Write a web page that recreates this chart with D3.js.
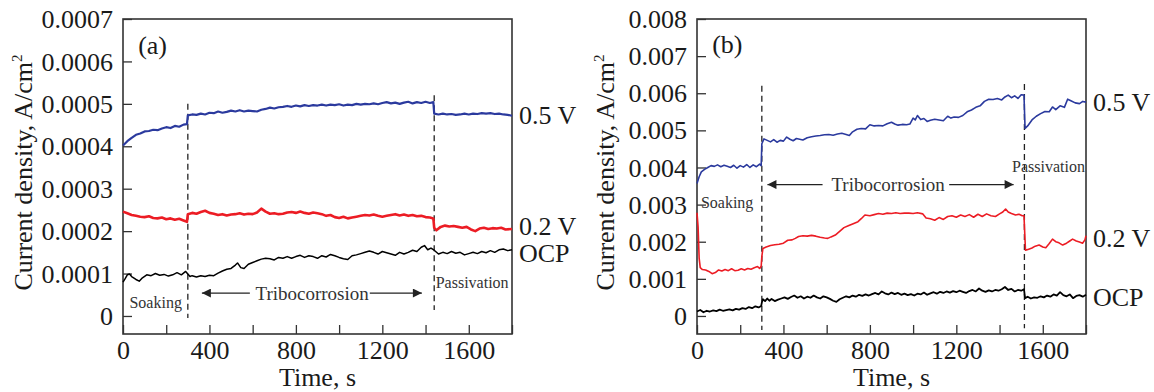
<!DOCTYPE html>
<html lang="en">
<head>
<meta charset="utf-8">
<title>current density vs time</title>
<script src="https://d3js.org/d3.v7.min.js"></script>
<style>
    body{margin:0;background:#fff;}
    svg text{font-family:"Liberation Serif","Times New Roman",serif;fill:#1a1a1a;}
    .tick line{stroke:#333;stroke-width:1.3px;}
    .tick text{font-size:26px;}
</style>
</head>
<body>
<svg id="chart" width="1154" height="392"></svg>
<script>
// panel (a), current density in units of 1e-4 A/cm2, [time s, value]
var aBlue = [[0,4.02],[20,4.12],[40,4.20],[60,4.27],[80,4.30],[100,4.35],[120,4.36],[140,4.39],[160,4.38],[180,4.42],[200,4.45],[220,4.43],[240,4.48],[260,4.46],[280,4.51],[296,4.52],
    [300,4.73],[320,4.75],[340,4.74],[360,4.77],[380,4.75],[400,4.79],[420,4.78],[440,4.82],[460,4.79],[480,4.81],[500,4.84],[520,4.82],[540,4.85],[560,4.82],[580,4.84],[600,4.83],
    [620,4.82],[640,4.86],[660,4.88],[680,4.91],[700,4.89],[720,4.92],[740,4.93],[760,4.95],[780,4.93],[800,4.96],[820,4.94],[840,4.97],[860,4.95],[880,4.97],[900,4.96],[920,4.98],
    [940,4.96],[960,4.98],[980,4.97],[1000,4.99],[1020,4.96],[1040,4.98],[1060,4.97],[1080,5.00],[1100,4.98],[1120,5.00],[1140,4.99],[1160,5.01],[1180,4.99],[1200,5.02],[1220,5.04],
    [1240,5.01],[1260,5.03],[1280,5.00],[1300,5.03],[1320,5.05],[1340,5.01],[1360,5.04],[1380,5.02],[1400,5.05],[1420,5.02],[1436,5.04],
    [1440,4.77],[1460,4.75],[1480,4.77],[1500,4.75],[1520,4.76],[1540,4.74],[1560,4.75],[1580,4.77],[1600,4.75],[1620,4.77],[1640,4.76],[1660,4.78],[1680,4.77],[1700,4.78],[1720,4.76],
    [1740,4.77],[1760,4.75],[1780,4.74],[1800,4.72]]
var aRed = [[0,2.46],[20,2.42],[40,2.38],[60,2.36],[80,2.34],[100,2.33],[120,2.35],[140,2.31],[160,2.30],[180,2.32],[200,2.28],[220,2.30],[240,2.27],[260,2.29],[280,2.25],[296,2.22],
    [300,2.40],[320,2.43],[340,2.41],[360,2.45],[380,2.48],[400,2.43],[420,2.41],[440,2.38],[460,2.40],[480,2.37],[500,2.39],[520,2.40],[540,2.42],[560,2.39],[580,2.41],[600,2.40],
    [620,2.44],[640,2.53],[660,2.46],[680,2.41],[700,2.42],[720,2.40],[740,2.41],[760,2.44],[780,2.45],[800,2.43],[820,2.46],[840,2.43],[860,2.41],[880,2.44],[900,2.42],[920,2.40],
    [940,2.36],[960,2.38],[980,2.33],[1000,2.31],[1020,2.34],[1040,2.30],[1060,2.32],[1080,2.34],[1100,2.36],[1120,2.38],[1140,2.37],[1160,2.39],[1180,2.36],[1200,2.34],[1220,2.36],
    [1240,2.38],[1260,2.40],[1280,2.37],[1300,2.39],[1320,2.36],[1340,2.38],[1360,2.35],[1380,2.36],[1400,2.33],[1420,2.32],[1436,2.30],
    [1440,2.08],[1450,2.02],[1470,2.10],[1490,2.13],[1510,2.11],[1530,2.12],[1550,2.10],[1570,2.08],[1590,2.10],[1610,2.04],[1630,2.00],[1650,2.06],[1670,2.08],[1690,2.05],[1710,2.07],
    [1730,2.06],[1750,2.08],[1770,2.04],[1800,2.05]]
var aOcp = [[0,0.80],[10,0.88],[20,0.97],[30,0.99],[40,0.93],[60,0.86],[75,0.82],[90,0.90],[110,0.97],[130,0.95],[150,1.00],[170,0.96],[190,0.98],[210,0.94],[230,0.97],[250,1.02],
    [270,0.97],[290,1.05],[300,0.99],[310,0.93],[320,0.95],[340,0.92],[360,0.95],[380,0.93],[400,0.96],[420,0.95],[440,1.01],[460,1.06],[480,1.10],[500,1.12],[520,1.20],[530,1.25],
    [545,1.14],[560,1.12],[580,1.22],[600,1.26],[620,1.30],[640,1.34],[660,1.36],[680,1.35],[700,1.32],[720,1.38],[740,1.36],[760,1.40],[780,1.36],[800,1.40],[820,1.43],[840,1.38],
    [860,1.42],[880,1.40],[900,1.36],[920,1.42],[940,1.39],[960,1.45],[980,1.42],[1000,1.38],[1020,1.35],[1040,1.33],[1060,1.42],[1080,1.44],[1100,1.47],[1120,1.50],[1140,1.53],
    [1160,1.50],[1180,1.46],[1200,1.52],[1220,1.49],[1240,1.46],[1260,1.43],[1280,1.50],[1300,1.46],[1320,1.50],[1340,1.55],[1360,1.52],[1380,1.62],[1395,1.66],[1410,1.56],[1425,1.60],
    [1440,1.55],[1460,1.46],[1480,1.50],[1500,1.47],[1520,1.52],[1540,1.48],[1560,1.50],[1580,1.44],[1600,1.47],[1620,1.50],[1640,1.47],[1660,1.52],[1680,1.49],[1700,1.54],[1720,1.50],
    [1740,1.56],[1760,1.58],[1780,1.54],[1800,1.56]]

// panel (b), current density in units of 1e-3 A/cm2
var bBlue = [[0,3.57],[10,3.75],[20,3.88],[35,3.95],[50,4.00],[65,4.05],[80,4.03],[95,4.07],[110,4.02],[125,4.06],[140,4.03],[155,4.00],[170,4.06],[185,3.98],[200,4.05],[215,4.01],
    [230,4.08],[245,4.00],[260,4.07],[275,4.02],[290,4.09],[297,4.05],[300,4.64],[310,4.77],[325,4.73],[340,4.69],[355,4.75],[370,4.68],[385,4.73],[400,4.71],[415,4.82],[430,4.76],
    [445,4.72],[460,4.78],[475,4.76],[490,4.74],[510,4.80],[530,4.83],[550,4.85],[570,4.86],[590,4.88],[610,4.89],[630,4.87],[650,4.90],[670,4.92],[690,4.89],[705,4.86],[720,4.96],
    [740,5.03],[760,5.05],[780,5.04],[800,5.15],[820,5.12],[840,5.13],[860,5.12],[880,5.18],[900,5.22],[915,5.17],[930,5.14],[950,5.16],[970,5.15],[985,5.17],[1000,5.33],[1010,5.28],
    [1020,5.40],[1035,5.29],[1050,5.32],[1065,5.24],[1080,5.27],[1100,5.30],[1120,5.28],[1140,5.26],[1160,5.38],[1175,5.33],[1190,5.36],[1210,5.35],[1230,5.40],[1250,5.50],[1270,5.55],
    [1290,5.62],[1310,5.66],[1330,5.78],[1350,5.84],[1370,5.83],[1390,5.86],[1410,5.82],[1425,5.90],[1440,5.95],[1455,5.88],[1470,5.93],[1485,5.86],[1500,5.96],[1513,5.95],
    [1518,5.05],[1530,5.12],[1550,5.28],[1570,5.38],[1590,5.45],[1610,5.51],[1630,5.50],[1645,5.63],[1660,5.56],[1680,5.66],[1700,5.62],[1715,5.84],[1730,5.80],[1750,5.74],[1770,5.72],
    [1785,5.78],[1800,5.76]]
var bRed = [[0,2.78],[5,2.40],[10,1.55],[15,1.30],[25,1.25],[40,1.24],[55,1.20],[70,1.14],[85,1.17],[100,1.24],[115,1.21],[130,1.25],[145,1.22],[160,1.27],[175,1.22],[190,1.23],
    [205,1.27],[220,1.24],[235,1.28],[250,1.26],[265,1.30],[280,1.33],[290,1.28],[297,1.34],[300,1.60],[305,1.82],[320,1.86],[340,1.90],[360,1.92],[380,1.93],[400,1.96],[420,2.04],
    [440,2.05],[455,2.09],[470,2.14],[490,2.16],[510,2.15],[530,2.17],[550,2.15],[570,2.12],[590,2.10],[605,2.09],[620,2.13],[640,2.18],[660,2.28],[680,2.38],[700,2.43],[720,2.48],
    [745,2.54],[760,2.62],[777,2.72],[800,2.70],[820,2.73],[840,2.76],[860,2.74],[880,2.77],[900,2.76],[920,2.78],[940,2.76],[960,2.77],[980,2.77],[1000,2.76],[1020,2.78],[1045,2.75],
    [1060,2.64],[1080,2.62],[1100,2.58],[1120,2.65],[1140,2.60],[1160,2.68],[1180,2.70],[1200,2.66],[1220,2.72],[1240,2.68],[1260,2.73],[1280,2.66],[1300,2.74],[1320,2.68],[1340,2.75],
    [1360,2.70],[1381,2.68],[1400,2.75],[1415,2.80],[1428,2.88],[1440,2.80],[1455,2.76],[1474,2.72],[1490,2.74],[1505,2.70],[1513,2.70],
    [1520,1.77],[1535,1.80],[1550,1.83],[1565,1.88],[1583,1.91],[1600,1.86],[1614,1.84],[1630,1.95],[1645,2.07],[1660,2.00],[1675,1.97],[1692,1.91],[1710,1.96],[1725,2.02],[1738,2.07],
    [1755,2.02],[1770,1.99],[1784,1.96],[1795,2.05],[1800,2.16]]
var bOcp = [[0,0.12],[15,0.16],[30,0.10],[45,0.14],[60,0.12],[75,0.15],[90,0.13],[105,0.17],[120,0.14],[135,0.16],[150,0.18],[165,0.15],[180,0.19],[195,0.17],[210,0.21],[225,0.19],
    [240,0.24],[255,0.21],[270,0.26],[285,0.23],[297,0.27],[300,0.36],[305,0.45],[315,0.40],[325,0.47],[335,0.41],[345,0.46],[360,0.40],[375,0.44],[390,0.47],[405,0.50],[420,0.46],
    [435,0.51],[450,0.55],[465,0.49],[480,0.53],[495,0.47],[510,0.52],[525,0.49],[540,0.55],[555,0.50],[570,0.47],[585,0.53],[600,0.50],[615,0.46],[630,0.41],[645,0.38],[660,0.45],
    [675,0.49],[690,0.53],[705,0.50],[720,0.55],[735,0.52],[750,0.57],[765,0.54],[780,0.58],[795,0.55],[810,0.59],[825,0.62],[840,0.58],[855,0.66],[870,0.61],[885,0.58],[900,0.63],
    [915,0.59],[930,0.62],[945,0.57],[960,0.60],[975,0.56],[990,0.59],[1005,0.55],[1020,0.60],[1035,0.58],[1050,0.63],[1065,0.57],[1080,0.61],[1095,0.64],[1110,0.60],[1125,0.65],
    [1140,0.62],[1155,0.66],[1170,0.63],[1185,0.67],[1200,0.64],[1215,0.68],[1230,0.65],[1245,0.62],[1260,0.67],[1275,0.70],[1290,0.66],[1305,0.74],[1320,0.68],[1335,0.65],[1350,0.69],
    [1365,0.66],[1380,0.70],[1395,0.68],[1410,0.72],[1425,0.78],[1440,0.70],[1455,0.73],[1470,0.66],[1485,0.70],[1500,0.68],[1513,0.72],
    [1518,0.48],[1530,0.52],[1545,0.47],[1560,0.50],[1575,0.49],[1590,0.53],[1605,0.50],[1620,0.55],[1635,0.52],[1650,0.58],[1665,0.55],[1680,0.64],[1695,0.56],[1710,0.53],[1725,0.58],
    [1740,0.48],[1755,0.54],[1770,0.56],[1785,0.52],[1800,0.57]]

var aTicks = [0,1,2,3,4,5,6,7]
var aTickLabels = ["0","0.0001","0.0002","0.0003","0.0004","0.0005","0.0006","0.0007"]
var bTicks = [0,1,2,3,4,5,6,7,8]
var bTickLabels = ["0","0.001","0.002","0.003","0.004","0.005","0.006","0.007","0.008"]
var timeTicks = [0,200,400,600,800,1000,1200,1400,1600,1800]
var timeLabels = ["0","","400","","800","","1200","","1600",""]
var seriesNames = ["0.5 V","0.2 V","OCP"]
var colors = ["#2b3a9e","#ec1c24","#000000"]

var svg = d3.select("#chart")
var defs = svg.append("defs")
defs.append("marker").attr("id","arrow")
    .attr("viewBox","0 0 10 10").attr("refX",10).attr("refY",5)
    .attr("markerWidth",16).attr("markerHeight",9).attr("markerUnits","userSpaceOnUse")
    .attr("orient","auto")
    .append("path").attr("d","M0,0 L10,5 L0,10 z").attr("fill","#222")

drawPanel({
    left:123, right:512, top:19, bottom:334,
    yDomain:[-0.425,7.0], ticks:aTicks, tickLabels:aTickLabels,
    series:[aBlue,aRed,aOcp], widths:[2.2,2.6,1.5], nudge:[0,-3,4],
    tag:"(a)", tagPos:[70,6.4],
    dashes:[[300,5.0,-0.05],[1440,5.2,0.14]],
    soaking:[30,0.33], tribo:[875,0.54,365,587,1142,1383], passiv:[1447,0.78],
    titleX:32
})
drawPanel({
    left:697, right:1086, top:19, bottom:334,
    yDomain:[-0.486,8.0], ticks:bTicks, tickLabels:bTickLabels,
    series:[bBlue,bRed,bOcp], widths:[1.6,1.6,1.8], nudge:[0,3,3],
    tag:"(b)", tagPos:[70,7.32],
    dashes:[[300,6.2,-0.38],[1515,6.25,-0.33]],
    soaking:[18,3.05], tribo:[884,3.54,326,581,1167,1465], passiv:[1458,4.03],
    titleX:614
})

function drawPanel(p){
    var x = d3.scaleLinear().domain([0,1800]).range([p.left,p.right])
    var y = d3.scaleLinear().domain(p.yDomain).range([p.bottom,p.top])
    var g = svg.append("g")

    // axes with inward ticks
    var yAxis = g.append("g").attr("transform","translate("+p.left+",0)")
        .call(d3.axisLeft(y).tickValues(p.ticks).tickFormat(function(d,i){return p.tickLabels[i]})
            .tickSize(-9).tickPadding(10))
    yAxis.select(".domain").remove()
    yAxis.selectAll("text").attr("dy","0.33em")

    var xAxis = g.append("g").attr("transform","translate(0,"+p.bottom+")")
        .call(d3.axisBottom(x).tickValues(timeTicks).tickFormat(function(d,i){return timeLabels[i]})
            .tickSize(-9).tickPadding(7))
    xAxis.select(".domain").remove()

    g.append("rect").attr("x",p.left).attr("y",p.top)
        .attr("width",p.right-p.left).attr("height",p.bottom-p.top)
        .attr("fill","none").attr("stroke","#333").attr("stroke-width",1.6)

    // phase separators
    p.dashes.forEach(function(d){
        g.append("line").attr("x1",x(d[0])).attr("x2",x(d[0]))
            .attr("y1",y(d[1])).attr("y2",y(d[2]))
            .attr("stroke","#222").attr("stroke-width",1.3).attr("stroke-dasharray","6,4")
    })

    var line = d3.line().x(function(d){return x(d[0])}).y(function(d){return y(d[1])})
    p.series.forEach(function(s,i){
        g.append("path").datum(s).attr("d",line)
            .attr("fill","none").attr("stroke",colors[i])
            .attr("stroke-width",p.widths[i]).attr("stroke-linejoin","round")
        var last = s[s.length-1]
        g.append("text").attr("x",p.right+7).attr("y",y(last[1])+p.nudge[i])
            .attr("dy","0.33em").style("font-size","26px").text(seriesNames[i])
    })

    g.append("text").attr("x",x(p.tagPos[0])).attr("y",y(p.tagPos[1]))
        .attr("dy","0.35em").style("font-size","26px").text(p.tag)

    // annotations
    g.append("text").attr("x",x(p.soaking[0])).attr("y",y(p.soaking[1]))
        .attr("dy","0.35em").style("font-size","16px").style("fill","#333").text("Soaking")
    g.append("text").attr("x",x(p.passiv[0])).attr("y",y(p.passiv[1]))
        .attr("dy","0.35em").style("font-size","16px").style("fill","#333").text("Passivation")
    var t = p.tribo
    g.append("text").attr("x",x(t[0])).attr("y",y(t[1])).attr("dy","0.35em")
        .attr("text-anchor","middle").style("font-size","19px").style("fill","#333").text("Tribocorrosion")
    g.append("line").attr("x1",x(t[3])).attr("x2",x(t[2])).attr("y1",y(t[1])).attr("y2",y(t[1]))
        .attr("stroke","#222").attr("stroke-width",1.3).attr("marker-end","url(#arrow)")
    g.append("line").attr("x1",x(t[4])).attr("x2",x(t[5])).attr("y1",y(t[1])).attr("y2",y(t[1]))
        .attr("stroke","#222").attr("stroke-width",1.3).attr("marker-end","url(#arrow)")

    // axis titles
    var cy = (p.top+p.bottom)/2 - 4
    var yt = g.append("text").attr("transform","translate("+p.titleX+","+cy+") rotate(-90)")
        .attr("text-anchor","middle").style("font-size","26px")
    yt.append("tspan").text("Current density, A/cm")
    yt.append("tspan").attr("dy","-10").style("font-size","15px").text("2")
    g.append("text").attr("x",(p.left+p.right)/2).attr("y",386)
        .attr("text-anchor","middle").style("font-size","26px").text("Time, s")
}
</script>
</body>
</html>
